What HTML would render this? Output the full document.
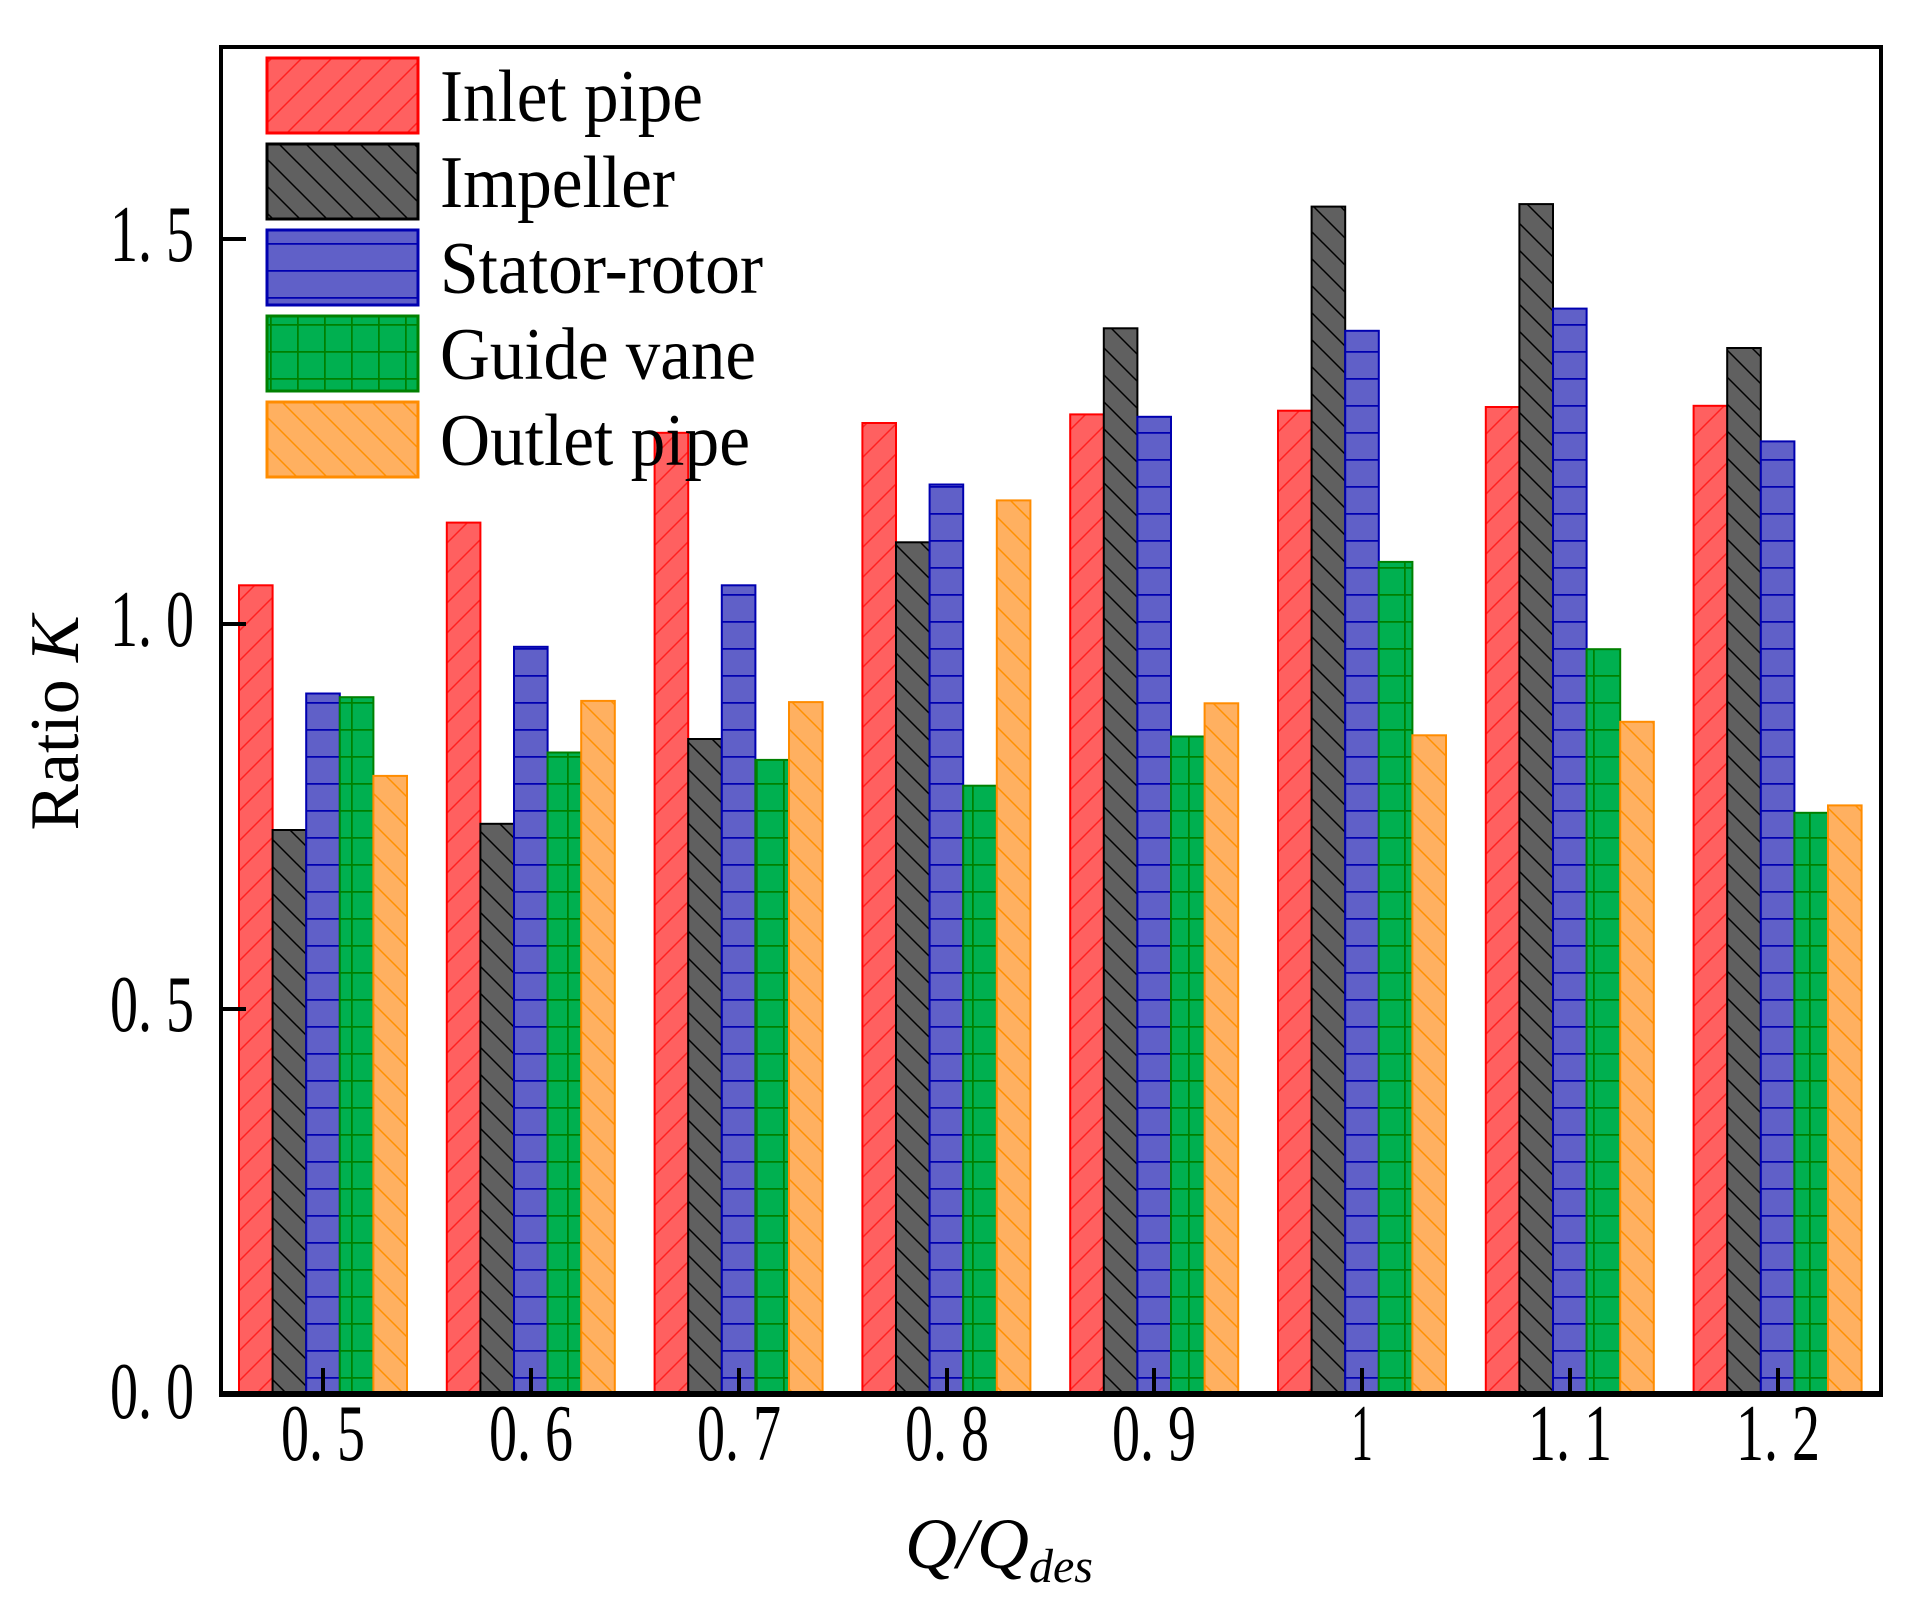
<!DOCTYPE html>
<html><head><meta charset="utf-8"><style>html,body{margin:0;padding:0;background:#fff}svg{display:block}</style></head>
<body>
<svg width="1928" height="1606" viewBox="0 0 1928 1606" xmlns="http://www.w3.org/2000/svg">
<defs>
<pattern id="pr" patternUnits="userSpaceOnUse" width="30" height="30"><rect width="30" height="30" fill="#ff6060"/><path d="M-2,32 L32,-2 M-2,2 L2,-2 M28,32 L32,28" stroke="#ff2020" stroke-width="1.5"/></pattern>
<pattern id="pk" patternUnits="userSpaceOnUse" width="27" height="27"><rect width="27" height="27" fill="#606060"/><path d="M-2,-2 L29,29 M25,-2 L29,2 M-2,25 L2,29" stroke="#000" stroke-width="1.5"/></pattern>
<pattern id="pb" patternUnits="userSpaceOnUse" width="27" height="27"><rect width="27" height="27" fill="#6060c8"/><path d="M0,0.75 L27,0.75" stroke="#0000b0" stroke-width="2"/></pattern>
<pattern id="pg" patternUnits="userSpaceOnUse" width="27" height="27"><rect width="27" height="27" fill="#00b050"/><path d="M0,0.75 L27,0.75 M0.75,0 L0.75,27" stroke="#008000" stroke-width="2"/></pattern>
<pattern id="po" patternUnits="userSpaceOnUse" width="30" height="30"><rect width="30" height="30" fill="#ffb060"/><path d="M-2,-2 L32,32 M28,-2 L32,2 M-2,28 L2,32" stroke="#ff9000" stroke-width="1.5"/></pattern>
</defs>
<g stroke-width="2">
<rect x="239" y="585.3" width="33.6" height="808.7" fill="url(#pr)" stroke="#ff0000"/>
<rect x="272.6" y="830" width="33.6" height="564" fill="url(#pk)" stroke="#000"/>
<rect x="306.2" y="693.5" width="33.6" height="700.5" fill="url(#pb)" stroke="#0000b0"/>
<rect x="339.8" y="697.2" width="33.6" height="696.8" fill="url(#pg)" stroke="#008000"/>
<rect x="373.4" y="775.9" width="33.6" height="618.1" fill="url(#po)" stroke="#ff8c00"/>
<rect x="446.8" y="522.6" width="33.6" height="871.4" fill="url(#pr)" stroke="#ff0000"/>
<rect x="480.4" y="823.8" width="33.6" height="570.2" fill="url(#pk)" stroke="#000"/>
<rect x="514" y="646.8" width="33.6" height="747.2" fill="url(#pb)" stroke="#0000b0"/>
<rect x="547.6" y="752.5" width="33.6" height="641.5" fill="url(#pg)" stroke="#008000"/>
<rect x="581.2" y="700.9" width="33.6" height="693.1" fill="url(#po)" stroke="#ff8c00"/>
<rect x="654.6" y="432.8" width="33.6" height="961.2" fill="url(#pr)" stroke="#ff0000"/>
<rect x="688.2" y="739" width="33.6" height="655" fill="url(#pk)" stroke="#000"/>
<rect x="721.8" y="585.3" width="33.6" height="808.7" fill="url(#pb)" stroke="#0000b0"/>
<rect x="755.4" y="759.9" width="33.6" height="634.1" fill="url(#pg)" stroke="#008000"/>
<rect x="789" y="702.1" width="33.6" height="691.9" fill="url(#po)" stroke="#ff8c00"/>
<rect x="862.4" y="423" width="33.6" height="971" fill="url(#pr)" stroke="#ff0000"/>
<rect x="896" y="542.3" width="33.6" height="851.7" fill="url(#pk)" stroke="#000"/>
<rect x="929.6" y="484.5" width="33.6" height="909.5" fill="url(#pb)" stroke="#0000b0"/>
<rect x="963.2" y="785.7" width="33.6" height="608.3" fill="url(#pg)" stroke="#008000"/>
<rect x="996.8" y="500.4" width="33.6" height="893.6" fill="url(#po)" stroke="#ff8c00"/>
<rect x="1070.2" y="414.4" width="33.6" height="979.6" fill="url(#pr)" stroke="#ff0000"/>
<rect x="1103.8" y="328.3" width="33.6" height="1065.7" fill="url(#pk)" stroke="#000"/>
<rect x="1137.4" y="416.8" width="33.6" height="977.2" fill="url(#pb)" stroke="#0000b0"/>
<rect x="1171" y="736.5" width="33.6" height="657.5" fill="url(#pg)" stroke="#008000"/>
<rect x="1204.6" y="703.3" width="33.6" height="690.7" fill="url(#po)" stroke="#ff8c00"/>
<rect x="1278" y="410.7" width="33.6" height="983.3" fill="url(#pr)" stroke="#ff0000"/>
<rect x="1311.6" y="206.6" width="33.6" height="1187.4" fill="url(#pk)" stroke="#000"/>
<rect x="1345.2" y="330.8" width="33.6" height="1063.2" fill="url(#pb)" stroke="#0000b0"/>
<rect x="1378.8" y="561.9" width="33.6" height="832.1" fill="url(#pg)" stroke="#008000"/>
<rect x="1412.4" y="735.3" width="33.6" height="658.7" fill="url(#po)" stroke="#ff8c00"/>
<rect x="1485.8" y="407" width="33.6" height="987" fill="url(#pr)" stroke="#ff0000"/>
<rect x="1519.4" y="204.1" width="33.6" height="1189.9" fill="url(#pk)" stroke="#000"/>
<rect x="1553" y="308.6" width="33.6" height="1085.4" fill="url(#pb)" stroke="#0000b0"/>
<rect x="1586.6" y="649.2" width="33.6" height="744.8" fill="url(#pg)" stroke="#008000"/>
<rect x="1620.2" y="721.8" width="33.6" height="672.2" fill="url(#po)" stroke="#ff8c00"/>
<rect x="1693.6" y="405.8" width="33.6" height="988.2" fill="url(#pr)" stroke="#ff0000"/>
<rect x="1727.2" y="348" width="33.6" height="1046" fill="url(#pk)" stroke="#000"/>
<rect x="1760.8" y="441.4" width="33.6" height="952.6" fill="url(#pb)" stroke="#0000b0"/>
<rect x="1794.4" y="812.8" width="33.6" height="581.2" fill="url(#pg)" stroke="#008000"/>
<rect x="1828" y="805.4" width="33.6" height="588.6" fill="url(#po)" stroke="#ff8c00"/>
</g>
<g stroke-width="3">
<rect x="267" y="58" width="151" height="75" fill="url(#pr)" stroke="#ff0000"/>
<rect x="267" y="144" width="151" height="75" fill="url(#pk)" stroke="#000"/>
<rect x="267" y="230" width="151" height="75" fill="url(#pb)" stroke="#0000b0"/>
<rect x="267" y="316" width="151" height="75" fill="url(#pg)" stroke="#008000"/>
<rect x="267" y="402" width="151" height="75" fill="url(#po)" stroke="#ff8c00"/>
</g>
<g font-family="Liberation Serif, serif" font-size="74" fill="#000">
<text x="440" y="121" textLength="263" lengthAdjust="spacingAndGlyphs">Inlet pipe</text>
<text x="440" y="207" textLength="235" lengthAdjust="spacingAndGlyphs">Impeller</text>
<text x="440" y="293" textLength="323" lengthAdjust="spacingAndGlyphs">Stator-rotor</text>
<text x="440" y="379" textLength="316" lengthAdjust="spacingAndGlyphs">Guide vane</text>
<text x="440" y="465" textLength="310" lengthAdjust="spacingAndGlyphs">Outlet pipe</text>
</g>
<rect x="221" y="47" width="1660" height="1347" fill="none" stroke="#000" stroke-width="4"/>
<line x1="219" y1="1394" x2="1883" y2="1394" stroke="#000" stroke-width="6"/>
<g stroke="#000" stroke-width="4">
<line x1="221" y1="239" x2="246" y2="239"/>
<line x1="221" y1="624" x2="246" y2="624"/>
<line x1="221" y1="1009" x2="246" y2="1009"/>
<line x1="323" y1="1394" x2="323" y2="1368"/>
<line x1="531" y1="1394" x2="531" y2="1368"/>
<line x1="739" y1="1394" x2="739" y2="1368"/>
<line x1="947" y1="1394" x2="947" y2="1368"/>
<line x1="1154" y1="1394" x2="1154" y2="1368"/>
<line x1="1362" y1="1394" x2="1362" y2="1368"/>
<line x1="1570" y1="1394" x2="1570" y2="1368"/>
<line x1="1778" y1="1394" x2="1778" y2="1368"/>
</g>
<g font-family="Liberation Serif, serif" font-size="80" fill="#000" text-anchor="end">
<text x="194" y="261" textLength="84" lengthAdjust="spacingAndGlyphs">1. 5</text>
<text x="194" y="646" textLength="84" lengthAdjust="spacingAndGlyphs">1. 0</text>
<text x="194" y="1031" textLength="84" lengthAdjust="spacingAndGlyphs">0. 5</text>
<text x="194" y="1418" textLength="84" lengthAdjust="spacingAndGlyphs">0. 0</text>
</g>
<g font-family="Liberation Serif, serif" font-size="80" fill="#000" text-anchor="middle">
<text x="323" y="1460" textLength="84" lengthAdjust="spacingAndGlyphs">0. 5</text>
<text x="531" y="1460" textLength="84" lengthAdjust="spacingAndGlyphs">0. 6</text>
<text x="739" y="1460" textLength="84" lengthAdjust="spacingAndGlyphs">0. 7</text>
<text x="947" y="1460" textLength="84" lengthAdjust="spacingAndGlyphs">0. 8</text>
<text x="1154" y="1460" textLength="84" lengthAdjust="spacingAndGlyphs">0. 9</text>
<text x="1362" y="1460" textLength="22" lengthAdjust="spacingAndGlyphs">1</text>
<text x="1570" y="1460" textLength="84" lengthAdjust="spacingAndGlyphs">1. 1</text>
<text x="1778" y="1460" textLength="84" lengthAdjust="spacingAndGlyphs">1. 2</text>
</g>
<text transform="translate(78,723) rotate(-90)" font-family="Liberation Serif, serif" font-size="70" text-anchor="middle" fill="#000" textLength="215" lengthAdjust="spacingAndGlyphs">Ratio <tspan font-style="italic">K</tspan></text>
<text x="905" y="1568" font-family="Liberation Serif, serif" font-size="72" font-style="italic" fill="#000"><tspan>Q/Q</tspan><tspan font-size="48" dy="14">des</tspan></text>
</svg>
</body></html>
